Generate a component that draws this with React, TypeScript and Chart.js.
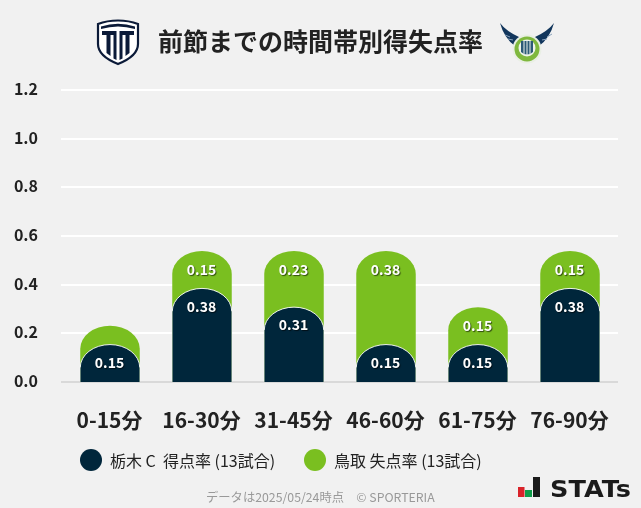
import React, { useEffect, useRef } from 'react';
import { Chart, registerables } from 'chart.js';
import type { Plugin } from 'chart.js';

Chart.register(...registerables);

const periods = ['0-15分', '16-30分', '31-45分', '46-60分', '61-75分', '76-90分'];
const scoredRate = [0.1538, 0.3846, 0.3077, 0.1538, 0.1538, 0.3846];
const concededRate = [0.0769, 0.1538, 0.2308, 0.3846, 0.1538, 0.1538];
const scoredLabel = '栃木 C  得点率 (13試合)';
const concededLabel = '鳥取 失点率 (13試合)';

const NAVY = '#00263b';
const GREEN = '#7abf20';
const FONT = '"Noto Sans CJK JP", "Noto Sans", sans-serif';

// grid runs a bit wider than the bars' category area
const gridPlugin: Plugin<'bar'> = {
  id: 'wideGrid',
  beforeDatasetsDraw(chart) {
    const { ctx } = chart;
    const y = chart.scales.y;
    ctx.save();
    y.ticks.forEach((tick) => {
      const py = Math.round(y.getPixelForValue(tick.value));
      ctx.fillStyle = tick.value === 0 ? '#d9d9d9' : '#ffffff';
      ctx.fillRect(61, py - 1, 557, 2);
    });
    ctx.restore();
  },
};

// bar tops are half ellipses, borderRadius only does circles
const domedBars: Plugin<'bar'> = {
  id: 'domedBars',
  beforeDatasetDraw(chart, args) {
    const { ctx } = chart;
    const isNavy = args.index === 0;
    const ry = 23;
    ctx.save();
    args.meta.data.forEach((bar) => {
      const { x, y, base, width } = bar.getProps(['x', 'y', 'base', 'width'], true);
      const rx = width / 2;
      ctx.beginPath();
      ctx.moveTo(x - rx, base);
      ctx.lineTo(x - rx, y + ry);
      ctx.ellipse(x, y + ry, rx, ry, 0, Math.PI, 2 * Math.PI);
      ctx.lineTo(x + rx, base);
      ctx.closePath();
      ctx.fillStyle = isNavy ? NAVY : GREEN;
      ctx.fill();
      if (isNavy) {
        ctx.strokeStyle = 'rgba(255,255,255,0.4)';
        ctx.lineWidth = 1;
        ctx.beginPath();
        ctx.moveTo(x - rx, base);
        ctx.lineTo(x - rx, y + ry);
        ctx.moveTo(x + rx, base);
        ctx.lineTo(x + rx, y + ry);
        ctx.stroke();
        ctx.strokeStyle = 'rgba(255,255,255,0.9)';
        ctx.beginPath();
        ctx.ellipse(x, y + ry, rx, ry, 0, Math.PI, 2 * Math.PI);
        ctx.stroke();
      }
    });
    ctx.restore();
    return false;
  },
};

const valueLabels: Plugin<'bar'> = {
  id: 'valueLabels',
  afterDatasetsDraw(chart) {
    const { ctx } = chart;
    ctx.save();
    ctx.font = `bold 14px ${FONT}`;
    ctx.textAlign = 'center';
    ctx.textBaseline = 'middle';
    ctx.fillStyle = '#ffffff';
    ctx.shadowColor = 'rgba(0,0,0,0.6)';
    ctx.shadowOffsetX = 1;
    ctx.shadowOffsetY = 1;
    ctx.shadowBlur = 1;
    chart.getDatasetMeta(0).data.forEach((bar, i) => {
      ctx.fillText(scoredRate[i].toFixed(2), bar.x - 0.5, bar.y + 18);
    });
    chart.getDatasetMeta(1).data.forEach((bar, i) => {
      // too short to hold a label
      if (concededRate[i] < 0.1) return;
      ctx.fillText(concededRate[i].toFixed(2), bar.x - 0.5, bar.y + 19);
    });
    ctx.restore();
  },
};

const absolute = (left: number, top: number): React.CSSProperties => ({
  position: 'absolute', left, top, whiteSpace: 'nowrap',
});

const Shield = () => (
  <svg width="44" height="48" viewBox="0 0 44 48" style={absolute(95.5, 19)}>
    <path d="M22 1.5 Q33 1.5 42 5 V25 Q42 37 22 45 Q2 37 2 25 V5 Q11 1.5 22 1.5Z" fill="#fff" stroke="#0b1a38" strokeWidth="2.2" />
    <path d="M5 7.5 Q22 2 39 7.5 V10 Q22 5 5 10Z" fill="#0b1a38" />
    <path d="M6 12 H20.5 V41 L17.5 39.5 V16 H14.5 V37 L10.5 34 V16 H6Z M23.5 12 H38 V16 H33.5 V34 L29.5 37 V16 H26.5 V39.5 L23.5 41Z" fill="#0b1a38" />
  </svg>
);

const Crest = () => (
  <svg width="56" height="42" viewBox="0 0 56 42" style={absolute(499, 22)}>
    <path d="M1 1 Q7 9 20 15 L25 20 L16 24 Q5 16 1 1Z" fill="#12365c" />
    <path d="M55 1 Q49 9 36 15 L31 20 L40 24 Q51 16 55 1Z" fill="#12365c" />
    <path d="M6 13 L11 15 M9 17 L14 18 M48 15 L53 12 M43 18 L48 17" stroke="#8aa3bd" strokeWidth="1" />
    <circle cx="28" cy="27" r="14.5" fill="#e9efe4" />
    <circle cx="28" cy="27" r="12.5" fill="#7fb83e" />
    <circle cx="28" cy="26" r="8.5" fill="#eef3ea" />
    <path d="M22 19 H34 V30 Q28 35 22 30Z" fill="#2c5a78" />
    <path d="M25 19 V32 M28 19 V33 M31 19 V32" stroke="#eef3ea" strokeWidth="1" />
  </svg>
);

const StatsLogo = () => (
  <svg width="120" height="30" viewBox="0 0 120 30" style={absolute(516, 474)}>
    <rect x="2" y="13" width="6.5" height="10" fill="#d9232a" />
    <rect x="9" y="16" width="7" height="7" fill="#0f9d4a" />
    <rect x="17" y="3" width="7" height="20" fill="#1b1b1b" />
    <text x="34" y="23" fontFamily="DejaVu Sans" fontWeight="bold" fontSize="23" fill="#1b1b1b" textLength="81" lengthAdjust="spacingAndGlyphs">STATs</text>
  </svg>
);

export default function App() {
  const canvasRef = useRef<HTMLCanvasElement>(null);

  useEffect(() => {
    if (!canvasRef.current) return undefined;
    const chart = new Chart(canvasRef.current, {
      type: 'bar',
      data: {
        labels: periods,
        datasets: [{
          label: scoredLabel,
          data: scoredRate,
          backgroundColor: NAVY,
          order: 1,
        }, {
          label: concededLabel,
          // the green bar sits behind the navy one, so it is drawn up to the sum
          data: concededRate.map((v, i) => v + scoredRate[i]),
          backgroundColor: GREEN,
          order: 2,
        }],
      },
      options: {
        responsive: false,
        animation: false,
        devicePixelRatio: 1,
        layout: { padding: { top: 90, right: 25, left: 0, bottom: 0 } },
        datasets: { bar: { grouped: false, barThickness: 59.5 } },
        plugins: { legend: { display: false }, tooltip: { enabled: false }, title: { display: false } },
        scales: {
          x: {
            grid: { display: false },
            border: { display: false },
            afterFit: (scale) => { scale.height = 126; },
            ticks: {
              padding: 17,
              labelOffset: -0.5,
              color: '#222222',
              font: { family: FONT, size: 21, weight: 'bold' },
              maxRotation: 0,
            },
          },
          y: {
            min: 0,
            max: 1.2,
            grid: { display: false, drawTicks: false },
            border: { display: false },
            afterFit: (scale) => { scale.width = 64; },
            ticks: {
              stepSize: 0.2,
              padding: 26,
              labelOffset: -1,
              color: '#222222',
              font: { family: FONT, size: 16, weight: 'bold' },
              callback: (v) => Number(v).toFixed(1),
            },
          },
        },
      },
      plugins: [gridPlugin, domedBars, valueLabels],
    });
    return () => { chart.destroy(); };
  }, []);

  return (
    <div style={{ position: 'relative', width: 641, height: 508, overflow: 'hidden', background: '#f1f1f1', fontFamily: FONT }}>
      <style>{'html,body{margin:0;background:#f1f1f1}'}</style>
      <canvas ref={canvasRef} width={641} height={508} style={{ position: 'absolute', left: 0, top: 0 }} />
      <Shield />
      <div style={{ ...absolute(158, 22), fontSize: 25, fontWeight: 700, lineHeight: '36px', color: '#222222' }}>前節までの時間帯別得失点率</div>
      <Crest />
      <div style={{ ...absolute(80, 449), width: 22, height: 22, borderRadius: '50%', background: NAVY }} />
      <div style={{ ...absolute(110, 449), fontSize: 16, lineHeight: '22px', color: '#222222', whiteSpace: 'pre' }}>{scoredLabel}</div>
      <div style={{ ...absolute(304, 449), width: 22, height: 22, borderRadius: '50%', background: GREEN }} />
      <div style={{ ...absolute(334, 449), fontSize: 16, lineHeight: '22px', color: '#222222', whiteSpace: 'pre' }}>{concededLabel}</div>
      <div style={{ ...absolute(206, 488), fontSize: 12.3, lineHeight: '18px', color: '#999999' }}>データは2025/05/24時点　© SPORTERIA</div>
      <StatsLogo />
    </div>
  );
}
